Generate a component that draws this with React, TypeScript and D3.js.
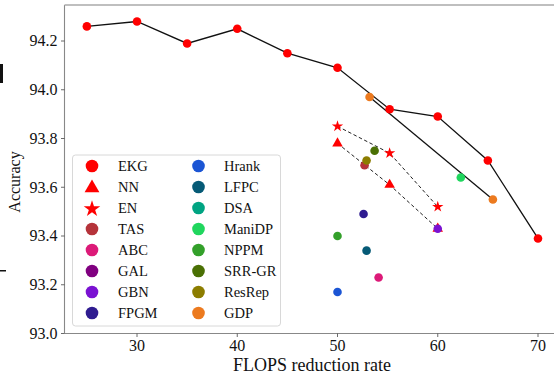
import * as d3 from "d3";
import { useEffect, useRef } from "react";

// EKG curve
const ekgRate = [25, 30, 35, 40, 45, 50, 55.2, 60, 65, 70];
const ekgAcc = [94.26, 94.28, 94.19, 94.25, 94.15, 94.09, 93.92, 93.89, 93.71, 93.39];

// NN / EN (dashed)
const nnRate = [50, 55.2, 60];
const nnAcc = [93.78, 93.61, 93.43];
const enRate = [50, 55.2, 60];
const enAcc = [93.85, 93.74, 93.52];

// GDP (two points joined)
const gdpRate = [53.2, 65.5];
const gdpAcc = [93.97, 93.55];

// other methods, one point each
const methodNames = ["Hrank", "NPPM", "LFPC", "ABC", "FPGM", "TAS", "ResRep", "SRR-GR", "ManiDP", "GBN"];
const methodRate = [50, 50, 52.9, 54.1, 52.6, 52.7, 52.9, 53.7, 62.3, 60];
const methodAcc = [93.17, 93.4, 93.34, 93.23, 93.49, 93.69, 93.71, 93.75, 93.64, 93.43];

const legendCol1 = ["EKG", "NN", "EN", "TAS", "ABC", "GAL", "GBN", "FPGM"];
const legendCol2 = ["Hrank", "LFPC", "DSA", "ManiDP", "NPPM", "SRR-GR", "ResRep", "GDP"];

const xTicks = [30, 40, 50, 60, 70];
const yTicks = [93.0, 93.2, 93.4, 93.6, 93.8, 94.0, 94.2];

const colors: Record<string, string> = {
  EKG: "#ff0000",
  NN: "#ff0000",
  EN: "#ff0000",
  TAS: "#b5333a",
  ABC: "#dc1a78",
  GAL: "#800080",
  GBN: "#7a12d2",
  FPGM: "#2f1c90",
  Hrank: "#1b55d4",
  LFPC: "#065a76",
  DSA: "#00a482",
  ManiDP: "#20d65e",
  NPPM: "#33a02a",
  "SRR-GR": "#4a7004",
  ResRep: "#8c7d00",
  GDP: "#ec7a1f",
};

const font = "Liberation Serif, Times New Roman, serif";

function drawChart(el: SVGSVGElement) {
  const svg = d3.select(el);
  svg.selectAll("*").remove();

  const x = d3.scaleLinear().domain([30, 70]).range([137, 538]);
  const y = d3.scaleLinear().domain([93.0, 94.2]).range([333.5, 41]);
  const left = 64.5;
  const top = 5;
  const bottom = 333.5;

  // spines
  svg.append("line").attr("x1", left).attr("x2", left).attr("y1", top).attr("y2", bottom)
    .attr("stroke", "#888").attr("stroke-width", 1.1);
  svg.append("line").attr("x1", left).attr("x2", 560).attr("y1", top).attr("y2", top)
    .attr("stroke", "#aaa").attr("stroke-width", 1.3);
  svg.append("line").attr("x1", left).attr("x2", 560).attr("y1", bottom).attr("y2", bottom)
    .attr("stroke", "#888").attr("stroke-width", 1.1);

  // y ticks
  yTicks.forEach((t) => {
    svg.append("line").attr("x1", left - 3.5).attr("x2", left).attr("y1", y(t)).attr("y2", y(t))
      .attr("stroke", "#444").attr("stroke-width", 0.8);
    svg.append("text").attr("x", left - 7).attr("y", y(t)).attr("dy", "0.34em")
      .attr("text-anchor", "end").attr("font-family", font).attr("font-size", 16)
      .attr("fill", "#111").text(t.toFixed(1));
  });

  // x ticks
  xTicks.forEach((t) => {
    svg.append("line").attr("x1", x(t)).attr("x2", x(t)).attr("y1", bottom).attr("y2", bottom + 3.5)
      .attr("stroke", "#444").attr("stroke-width", 0.8);
    svg.append("text").attr("x", x(t)).attr("y", 351)
      .attr("text-anchor", "middle").attr("font-family", font).attr("font-size", 16)
      .attr("fill", "#111").text(t);
  });

  // axis labels
  svg.append("text").attr("x", 312).attr("y", 371).attr("text-anchor", "middle")
    .attr("font-family", font).attr("font-size", 18).attr("fill", "#111")
    .text("FLOPS reduction rate");
  svg.append("text").attr("transform", "translate(20,182)rotate(-90)").attr("text-anchor", "middle")
    .attr("font-family", font).attr("font-size", 16).attr("fill", "#111")
    .text("Accuracy");

  // cropped page leftovers at the left edge
  svg.append("rect").attr("x", 0).attr("y", 64).attr("width", 3).attr("height", 19).attr("fill", "#111");
  svg.append("rect").attr("x", 0).attr("y", 270).attr("width", 6).attr("height", 1.5).attr("fill", "#111");

  const line = d3.line<[number, number]>().x((d) => x(d[0])).y((d) => y(d[1]));
  const zip = (a: number[], b: number[]) => a.map((v, i) => [v, b[i]] as [number, number]);

  // lines
  svg.append("path").attr("d", line(zip(ekgRate, ekgAcc))).attr("fill", "none")
    .attr("stroke", "#111").attr("stroke-width", 1.3);
  svg.append("path").attr("d", line(zip(gdpRate, gdpAcc))).attr("fill", "none")
    .attr("stroke", "#111").attr("stroke-width", 1.3);
  svg.append("path").attr("d", line(zip(nnRate, nnAcc))).attr("fill", "none")
    .attr("stroke", "#222").attr("stroke-width", 1).attr("stroke-dasharray", "3.5,2.5");
  svg.append("path").attr("d", line(zip(enRate, enAcc))).attr("fill", "none")
    .attr("stroke", "#222").attr("stroke-width", 1).attr("stroke-dasharray", "3.5,2.5");

  const r = 4.3;
  // EKG points
  svg.append("g").selectAll("circle").data(zip(ekgRate, ekgAcc)).join("circle")
    .attr("cx", (d) => x(d[0])).attr("cy", (d) => y(d[1])).attr("r", r).attr("fill", colors.EKG);

  // NN triangles
  svg.append("g").selectAll("path").data(zip(nnRate, nnAcc)).join("path")
    .attr("d", d3.symbol(d3.symbolTriangle, 48)())
    .attr("transform", (d) => `translate(${x(d[0])},${y(d[1])})`).attr("fill", colors.NN);
  // EN stars
  svg.append("g").selectAll("path").data(zip(enRate, enAcc)).join("path")
    .attr("d", d3.symbol(d3.symbolStar, 40)())
    .attr("transform", (d) => `translate(${x(d[0])},${y(d[1])})`).attr("fill", colors.EN);

  // GDP points
  svg.append("g").selectAll("circle").data(zip(gdpRate, gdpAcc)).join("circle")
    .attr("cx", (d) => x(d[0])).attr("cy", (d) => y(d[1])).attr("r", r).attr("fill", colors.GDP);

  // other methods
  svg.append("g").selectAll("circle").data(methodNames).join("circle")
    .attr("cx", (d, i) => x(methodRate[i])).attr("cy", (d, i) => y(methodAcc[i]))
    .attr("r", r).attr("fill", (d) => colors[d]);

  // legend
  const lg = svg.append("g");
  lg.append("rect").attr("x", 72.5).attr("y", 155).attr("width", 208).attr("height", 171)
    .attr("rx", 3).attr("fill", "white").attr("fill-opacity", 0.85)
    .attr("stroke", "#d8d8d8").attr("stroke-width", 1);

  const rowY = (i: number) => 166 + i * 21;
  const addCol = (keys: string[], mx: number, tx: number) => {
    keys.forEach((k, i) => {
      if (k === "NN") {
        lg.append("path").attr("d", d3.symbol(d3.symbolTriangle, 95)())
          .attr("transform", `translate(${mx},${rowY(i) + 1})`).attr("fill", colors[k]);
      } else if (k === "EN") {
        lg.append("path").attr("d", d3.symbol(d3.symbolStar, 85)())
          .attr("transform", `translate(${mx},${rowY(i) + 1})`).attr("fill", colors[k]);
      } else {
        lg.append("circle").attr("cx", mx).attr("cy", rowY(i)).attr("r", 6.3).attr("fill", colors[k]);
      }
      lg.append("text").attr("x", tx).attr("y", rowY(i)).attr("dy", "0.35em")
        .attr("font-family", font).attr("font-size", 14.5).attr("fill", "#111").text(k);
    });
  };
  addCol(legendCol1, 92, 118);
  addCol(legendCol2, 198.5, 224);
}

function App() {
  const ref = useRef<SVGSVGElement>(null);

  useEffect(() => {
    if (ref.current) drawChart(ref.current);
  }, []);

  return (
    <div style={{ position: "fixed", left: 0, top: 0, background: "white" }}>
      <svg ref={ref} width={554} height={375} style={{ display: "block" }}></svg>
    </div>
  );
}

export default App;
